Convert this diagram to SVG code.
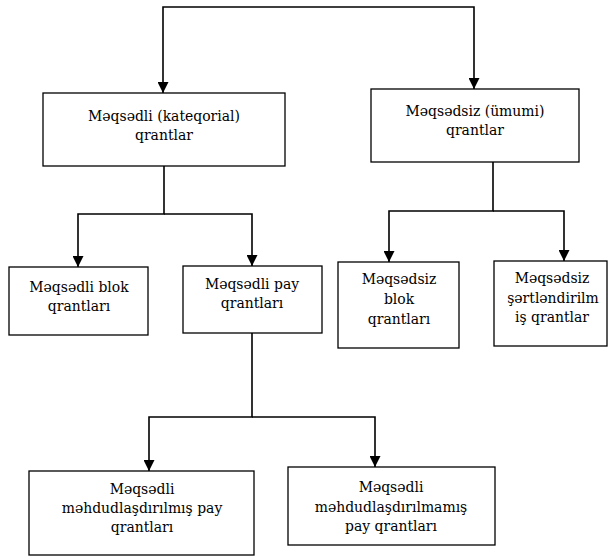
<svg xmlns="http://www.w3.org/2000/svg" width="609" height="557" viewBox="0 0 609 557">
<defs>
<style>
.box{fill:#fff;stroke:#000;stroke-width:1.3}
.lbl{font-family:'DejaVu Serif Condensed','DejaVu Serif',serif;font-stretch:condensed;font-size:15.5px;fill:#000;text-anchor:middle}
.con{fill:none;stroke:#000;stroke-width:1.6}
</style>
<marker id="ah" viewBox="0 0 11 11" refX="11" refY="5.5" markerWidth="11" markerHeight="11" markerUnits="userSpaceOnUse" orient="auto">
<path d="M0,0 L11,5.5 L0,11 z" fill="#000"/>
</marker>
</defs>
<rect width="609" height="557" fill="#fff"/>
<g id="connectors">
<path class="con" d="M318,7 H163 V93" marker-end="url(#ah)"/>
<path class="con" d="M318,7 H474 V89" marker-end="url(#ah)"/>
<path class="con" d="M164,163 V214 H78 V267" marker-end="url(#ah)"/>
<path class="con" d="M164,214 H252 V266" marker-end="url(#ah)"/>
<path class="con" d="M493,162 V211 H389 V262" marker-end="url(#ah)"/>
<path class="con" d="M493,211 H564 V261" marker-end="url(#ah)"/>
<path class="con" d="M252,333 V417 H149 V471" marker-end="url(#ah)"/>
<path class="con" d="M252,417 H375 V467" marker-end="url(#ah)"/>
</g>
<g id="n-meqsedli">
<rect class="box" x="43" y="93" width="242" height="73"/>
<text class="lbl" x="164" y="121">Məqsədli (kateqorial)</text>
<text class="lbl" x="164" y="140">qrantlar</text>
</g>
<g id="n-meqsedsiz">
<rect class="box" x="371" y="89" width="208" height="73"/>
<text class="lbl" x="475" y="116">Məqsədsiz (ümumi)</text>
<text class="lbl" x="475" y="135">qrantlar</text>
</g>
<g id="n-meqsedli-blok">
<rect class="box" x="9" y="267" width="139" height="68"/>
<text class="lbl" x="79" y="292">Məqsədli blok</text>
<text class="lbl" x="79" y="311">qrantları</text>
</g>
<g id="n-meqsedli-pay">
<rect class="box" x="183" y="266" width="139" height="67"/>
<text class="lbl" x="252" y="289">Məqsədli pay</text>
<text class="lbl" x="252" y="308">qrantları</text>
</g>
<g id="n-meqsedsiz-blok">
<rect class="box" x="338" y="262" width="121" height="86"/>
<text class="lbl" x="399" y="284">Məqsədsiz</text>
<text class="lbl" x="399" y="304">blok</text>
<text class="lbl" x="399" y="324">qrantları</text>
</g>
<g id="n-meqsedsiz-shertlendirilmish">
<rect class="box" x="494" y="261" width="113" height="85"/>
<text class="lbl" x="552" y="283">Məqsədsiz</text>
<text class="lbl" x="553" y="303">şərtləndirilm</text>
<text class="lbl" x="552" y="322">iş qrantlar</text>
</g>
<g id="n-mehdudlashdirilmish">
<rect class="box" x="29" y="471" width="225" height="84"/>
<text class="lbl" x="142" y="494">Məqsədli</text>
<text class="lbl" x="142" y="513">məhdudlaşdırılmış pay</text>
<text class="lbl" x="142" y="532">qrantları</text>
</g>
<g id="n-mehdudlashdirilmamish">
<rect class="box" x="288" y="467" width="207" height="78"/>
<text class="lbl" x="391" y="492">Məqsədli</text>
<text class="lbl" x="391" y="512">məhdudlaşdırılmamış</text>
<text class="lbl" x="391" y="531">pay qrantları</text>
</g>
</svg>
